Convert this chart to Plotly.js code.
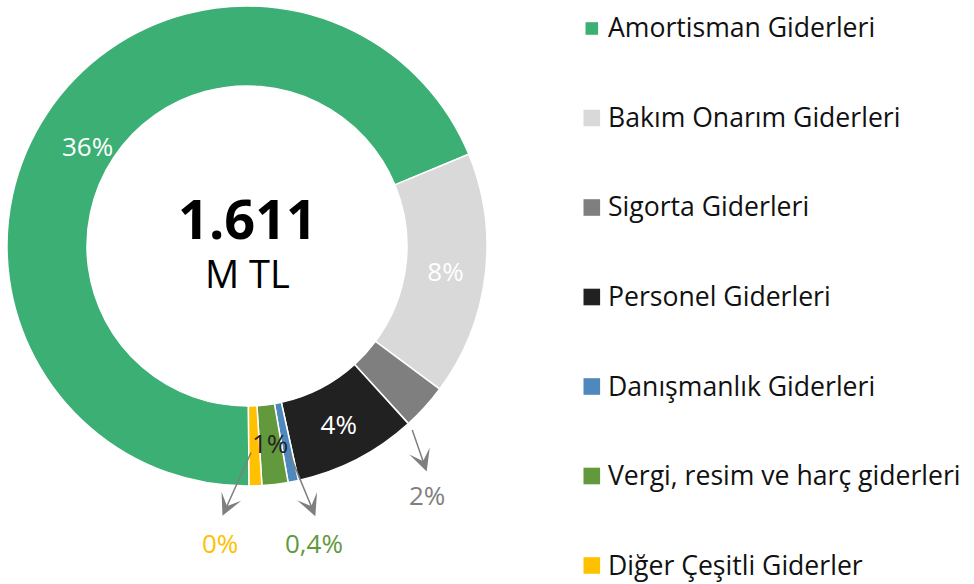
<!DOCTYPE html>
<html><head><meta charset="utf-8">
<script src="https://cdn.plot.ly/plotly-3.0.1.min.js"></script>
<style>html,body{margin:0;padding:0;background:#fff}#chart{width:974px;height:584px}</style>
</head><body><div id="chart"></div>
<script>
// ---- data ----
const categories = ["Amortisman Giderleri","Bakım Onarım Giderleri","Sigorta Giderleri","Personel Giderleri","Danışmanlık Giderleri","Vergi, resim ve harç giderleri","Diğer Çeşitli Giderler"];
const shares = [68.9, 16.4, 3.1, 8.3, 0.7, 1.75, 0.85];
const sliceLabels = ["36%","8%","2%","4%","0,4%","1%","0%"];
const totalText = "1.611";
const unitText = "M TL";

// ---- styles ----
const colors = ["#3CAF74","#D9D9D9","#7F7F7F","#212121","#4F88BD","#63993D","#FFC000"];
const labelColors = ["#FFFFFF","#FFFFFF","#7F7F7F","#FFFFFF","#63993D","#222222","#FFC000"];
const FONT = "Open Sans, Noto Sans, sans-serif";
const W = 974, H = 584;
const cx = 247, cy = 246, R = 240, HOLE = 2/3;
const rotation = 179.5;

const px = x => x / W;
const py = y => 1 - y / H;

// slice geometry (clockwise from 12 o'clock)
const total = shares.reduce((a,b)=>a+b,0);
const startA = [], endA = [];
let acc = rotation;
shares.forEach(v => { startA.push(acc); acc += v/total*360; endA.push(acc); });
const midA = startA.map((s,i)=>(s+endA[i])/2);
const pt = (ang, r) => [cx + r*Math.sin(ang*Math.PI/180), cy - r*Math.cos(ang*Math.PI/180)];
const rMid = R*(1+HOLE)/2;

const insideIdx = [1,3];
const trace = {
  type: 'pie',
  labels: categories,
  values: shares,
  text: sliceLabels,
  textinfo: 'text',
  textposition: categories.map((c,i)=> insideIdx.includes(i) ? 'inside' : 'none'),
  insidetextorientation: 'horizontal',
  insidetextfont: {family: FONT, size: 26, color: labelColors},
  hole: HOLE,
  sort: false,
  direction: 'clockwise',
  rotation: rotation,
  marker: {colors: colors, line: {color: '#FFFFFF', width: 1.5}},
  domain: {x: [px(cx-R), px(cx+R)], y: [py(cy+R), py(cy-R)]},
  showlegend: false,
  hoverinfo: 'label+value'
};

const annotations = [];
const shapes = [];

// center text (one block)
annotations.push({xref:'paper',yref:'paper',x:px(cx),y:py(240),
  text:"<span style='font-size:54px'><b>"+totalText+"</b></span><br>"+unitText,showarrow:false,
  font:{family:FONT,size:38,color:'#000'},xanchor:'center',yanchor:'middle',align:'center'});

// labels inside ring placed as annotations (largest slice & Vergi)
{
  const p0 = pt(midA[0]-1.3, 188);
  annotations.push({xref:'paper',yref:'paper',x:px(p0[0]),y:py(p0[1]),text:sliceLabels[0],showarrow:false,
    font:{family:FONT,size:26,color:labelColors[0]},xanchor:'center',yanchor:'middle'});
  const p = pt(midA[5], rMid);
  annotations.push({xref:'paper',yref:'paper',x:px(p[0]),y:py(p[1]-2),text:sliceLabels[5],showarrow:false,
    font:{family:FONT,size:26,color:labelColors[5]},xanchor:'center',yanchor:'middle'});
}
// callouts with arrows
const callouts = [
  {i:2, tail: pt(endA[2]-0.5, R-1), tip:[17.4,50], lab:[0.8,23.3]},
  {i:4, tail: pt(midA[4], rMid+4), tip:[29,70], lab:[-1,26.8]},
  {i:6, tail: pt(midA[6], rMid), tip:[-31.6,70], lab:[-2.7,27.5]}
];
callouts.forEach(c => {
  const tip = [c.tail[0]+c.tip[0], c.tail[1]+c.tip[1]];
  const lab = [tip[0]+c.lab[0], tip[1]+c.lab[1]];
  annotations.push({xref:'paper',yref:'paper',x:px(tip[0]),y:py(tip[1]),ax:c.tail[0]-tip[0],ay:c.tail[1]-tip[1],
    text:' ',showarrow:true,arrowhead:3,arrowsize:2.4,arrowwidth:1.5,arrowcolor:'#7F7F7F',standoff:0});
  annotations.push({xref:'paper',yref:'paper',x:px(lab[0]),y:py(lab[1]),text:sliceLabels[c.i],showarrow:false,
    font:{family:FONT,size:26,color:labelColors[c.i]},xanchor:'center',yanchor:'middle'});
});

// legend
const markerHalf = [6.3, 8.3, 8.3, 8.3, 8.3, 8.3, 8.3];
categories.forEach((c,i) => {
  const yc = 28.5 + i*89.5;
  const s = markerHalf[i];
  const xc = 591.8;
  shapes.push({type:'rect',xref:'paper',yref:'paper',x0:px(xc-s),x1:px(xc+s),y0:py(yc+s),y1:py(yc-s),
    fillcolor:colors[i],line:{width:0}});
  annotations.push({xref:'paper',yref:'paper',x:px(605.5),y:py(yc-1),text:c,showarrow:false,
    font:{family:FONT,size:26.6,color:'#111'},xanchor:'left',yanchor:'middle'});
});

const layout = {
  width: W, height: H,
  margin: {l:0,r:0,t:0,b:0},
  paper_bgcolor: '#fff', plot_bgcolor: '#fff',
  showlegend: false,
  annotations: annotations,
  shapes: shapes,
  font: {family: FONT}
};
Plotly.newPlot('chart', [trace], layout, {displayModeBar:false, staticPlot:true});
</script>
</body></html>
